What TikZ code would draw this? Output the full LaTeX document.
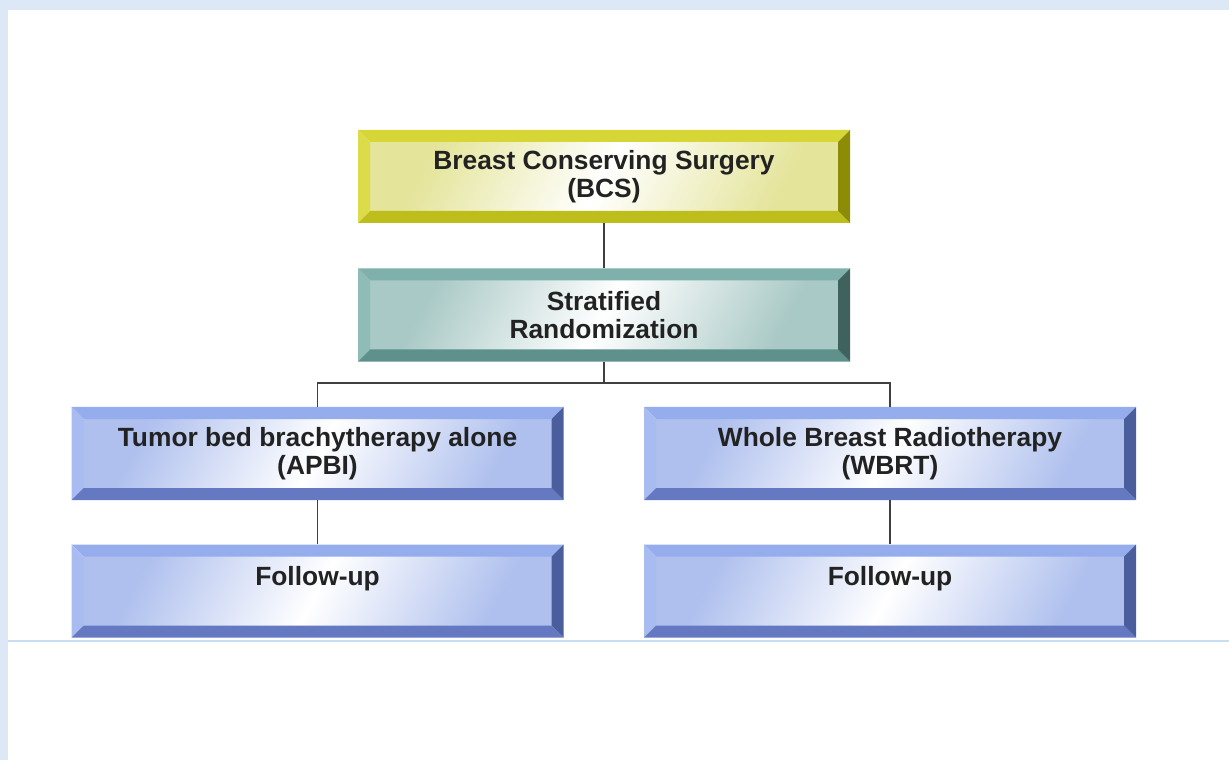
\documentclass[tikz,border=0pt]{standalone}
\usepackage{fontspec}
\setmainfont{Liberation Sans}
\usepackage{xcolor}
\usepackage{tikz}
\usetikzlibrary{calc}

\definecolor{frame}{HTML}{DCE8F6}
\definecolor{ruleline}{HTML}{C8DCF2}
\definecolor{txt}{HTML}{222222}
% yellow box
\definecolor{yTop}{HTML}{D6D636}
\definecolor{yLeft}{HTML}{DCDC4A}
\definecolor{yBot}{HTML}{BDBD1C}
\definecolor{yRight}{HTML}{8C8C06}
\definecolor{yTint}{HTML}{E4E49A}
% teal box
\definecolor{tTop}{HTML}{7FB0AB}
\definecolor{tLeft}{HTML}{90BCB7}
\definecolor{tBot}{HTML}{5F918C}
\definecolor{tRight}{HTML}{3F625E}
\definecolor{tTint}{HTML}{A9C9C6}
% blue boxes
\definecolor{bTop}{HTML}{95ADED}
\definecolor{bLeft}{HTML}{A8BCF1}
\definecolor{bBot}{HTML}{6479C2}
\definecolor{bRight}{HTML}{4A5E9E}
\definecolor{bTint}{HTML}{AFC0EE}

\def\bv{0.24cm}

\begin{document}
\begin{tikzpicture}[
    bevelbox/.style n args={5}{fill=white,inner sep=0pt,
      minimum width=9.84cm,minimum height=1.86cm,align=center,
      text=txt,font=\bfseries\fontsize{15}{16}\selectfont,
      path picture={
        \path (path picture bounding box.south west) coordinate (sw)
              (path picture bounding box.north east) coordinate (ne);
        \shade[left color=#5,right color=#5,middle color=white,shading angle=62]
          ($(sw)+(\bv,\bv)$) rectangle ($(ne)+(-\bv,-\bv)$);
        \fill[#1] (sw|-ne) -- (ne) -- ($(ne)+(-\bv,-\bv)$)
          -- ($(sw|-ne)+(\bv,-\bv)$) -- cycle;
        \fill[#2] (sw) -- (sw|-ne) -- ($(sw|-ne)+(\bv,-\bv)$)
          -- ($(sw)+(\bv,\bv)$) -- cycle;
        \fill[#3] (sw) -- (ne|-sw) -- ($(ne|-sw)+(-\bv,\bv)$)
          -- ($(sw)+(\bv,\bv)$) -- cycle;
        \fill[#4] (ne|-sw) -- (ne) -- ($(ne)+(-\bv,-\bv)$)
          -- ($(ne|-sw)+(-\bv,\bv)$) -- cycle;
      }},
    surgery/.style={bevelbox={yTop}{yLeft}{yBot}{yRight}{yTint}},
    random/.style={bevelbox={tTop}{tLeft}{tBot}{tRight}{tTint}},
    arm/.style={bevelbox={bTop}{bLeft}{bBot}{bRight}{bTint}},
    followup/.style={arm,text height=13pt,text depth=19pt},
    link/.style={draw=black!75,line width=1pt}
  ]
    \useasboundingbox (0,0) rectangle (24.58,15.2);
    % page background
    \fill[frame] (0,0) rectangle (0.16,15.2);
    \fill[frame] (0,15.0) rectangle (24.58,15.2);
    \draw[ruleline,line width=0.04cm] (0.16,2.38) -- (24.58,2.38);

    \node[surgery] (bcs) at (12.08,11.67) {Breast Conserving Surgery\\(BCS)};
    \node[random] (strat) at (12.08,8.90) {Stratified\\Randomization};
    \node[arm] (apbi) at (6.35,6.13) {Tumor bed brachytherapy alone\\(APBI)};
    \node[arm] (wbrt) at (17.80,6.13) {Whole Breast Radiotherapy\\(WBRT)};
    \node[followup] (fuA) at (6.35,3.38) {Follow-up};
    \node[followup] (fuB) at (17.80,3.38) {Follow-up};

    \coordinate (split) at ($(strat.south)+(0,-0.42)$);
    \draw[link] (bcs) -- (strat);
    \draw[link] (strat) -- (split);
    \draw[link] (split) -| (apbi);
    \draw[link] (split) -| (wbrt);
    \draw[link] (apbi) -- (fuA);
    \draw[link] (wbrt) -- (fuB);
  \end{tikzpicture}
\end{document}
